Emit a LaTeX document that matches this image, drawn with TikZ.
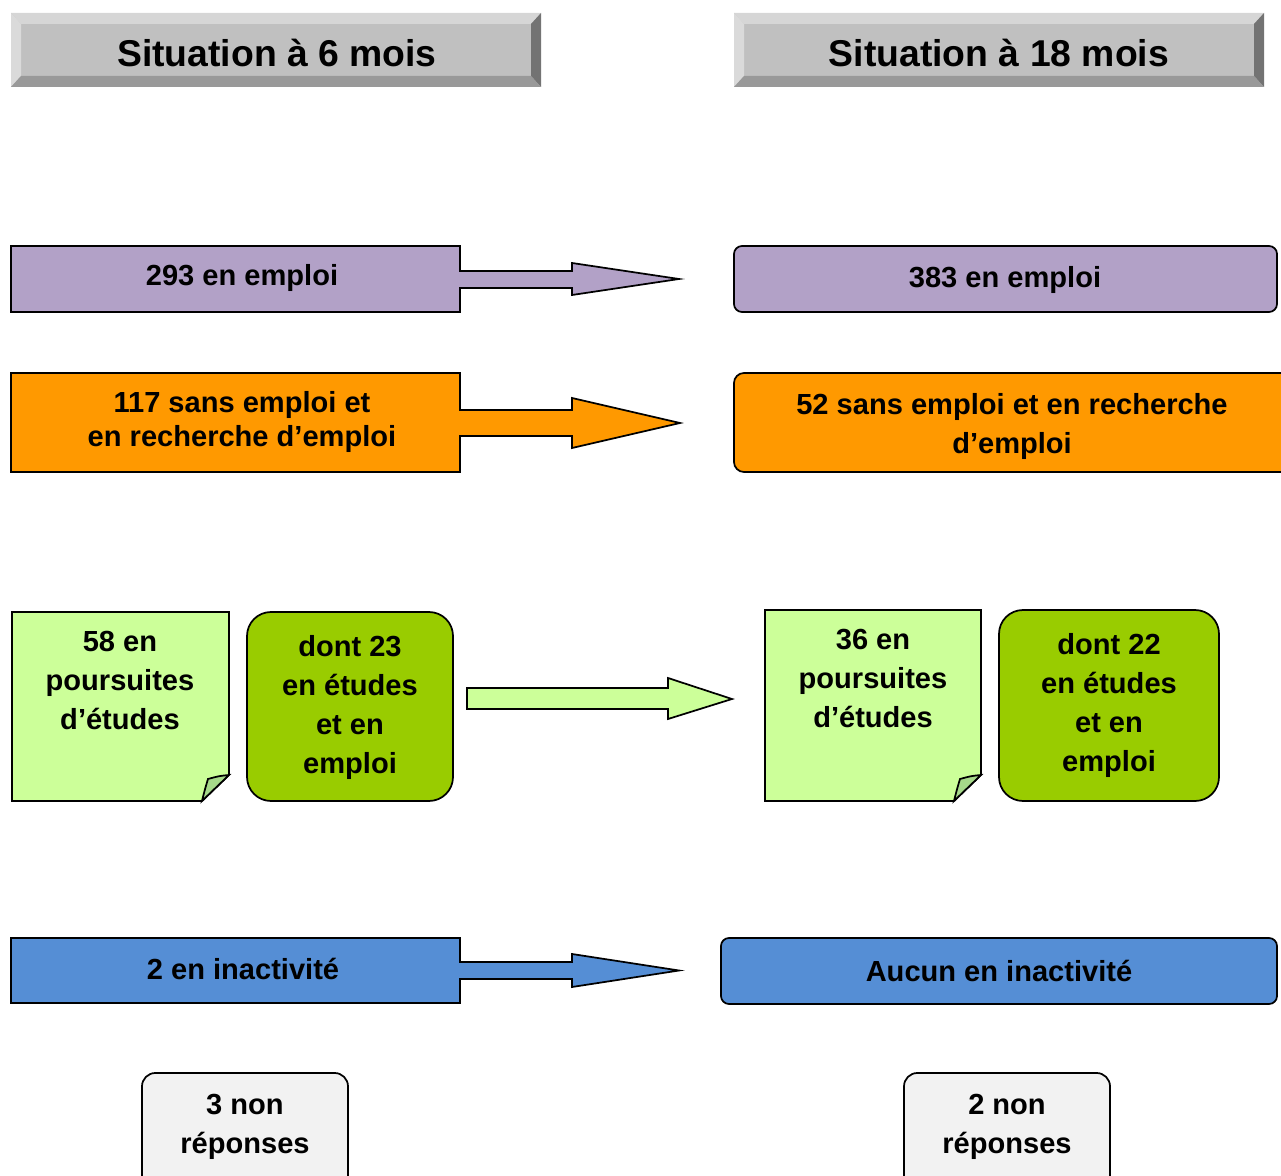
\documentclass[tikz,border=0pt]{standalone}
\usepackage{fontspec}
\setmainfont{Liberation Sans}
\definecolor{cpurple}{HTML}{B2A1C7}
\definecolor{corange}{HTML}{FF9900}
\definecolor{clgreen}{HTML}{CCFF99}
\definecolor{cdgreen}{HTML}{99CC00}
\definecolor{cflap}{HTML}{A6D98A}
\definecolor{cblue}{HTML}{558ED5}
\definecolor{cgray}{HTML}{F2F2F2}
\definecolor{hface}{HTML}{C0C0C0}
\definecolor{htop}{HTML}{D6D6D6}
\definecolor{hleft}{HTML}{DADADA}
\definecolor{hright}{HTML}{737373}
\definecolor{hbottom}{HTML}{999999}
\begin{document}
\begin{tikzpicture}[x=0.75pt,y=-0.75pt,line join=miter,
  lbl/.style={font=\bfseries\fontsize{21.8}{29.25}\selectfont,align=center,inner sep=0pt},
  lbltight/.style={font=\bfseries\fontsize{21.8}{25.5}\selectfont,align=center,inner sep=0pt},
  htxt/.style={font=\bfseries\fontsize{28}{33}\selectfont,inner sep=0pt},
  shp/.style={draw=black,line width=1.3pt},
]
\useasboundingbox (0,0) rectangle (1281,1176);

% ---------- headers ----------
\fill[hface] (11,13) rectangle (541,87);
\fill[htop] (11,13) -- (541,13) -- (531,24) -- (21,24) -- cycle;
\fill[hleft] (11,13) -- (21,24) -- (21,76) -- (11,87) -- cycle;
\fill[hright] (541,13) -- (541,87) -- (531,76) -- (531,24) -- cycle;
\fill[hbottom] (11,87) -- (541,87) -- (531,76) -- (21,76) -- cycle;
\node[htxt] (h6) at (277,53) {Situation à 6 mois};

\fill[hface] (734,13) rectangle (1264,87);
\fill[htop] (734,13) -- (1264,13) -- (1254,24) -- (744,24) -- cycle;
\fill[hleft] (734,13) -- (744,24) -- (744,76) -- (734,87) -- cycle;
\fill[hright] (1264,13) -- (1264,87) -- (1254,76) -- (1254,24) -- cycle;
\fill[hbottom] (734,87) -- (1264,87) -- (1254,76) -- (744,76) -- cycle;
\node[htxt] (h18) at (999,53) {Situation à 18 mois};

% ---------- row 1: emploi ----------
\draw[shp,fill=cpurple] (11,246) -- (460,246) -- (460,271) -- (572,271) -- (572,263)
  -- (679,279) -- (572,295) -- (572,288) -- (460,288) -- (460,312) -- (11,312) -- cycle;
\node[lbl] (e6) at (242,277.5) {293 en emploi};
\draw[shp,fill=cpurple,rounded corners=6pt] (734,246) rectangle (1277,312);
\node[lbl] (e18) at (1005,279.5) {383 en emploi};

% ---------- row 2: recherche ----------
\draw[shp,fill=corange] (11,373) -- (460,373) -- (460,410) -- (572,410) -- (572,398)
  -- (680,423) -- (572,448) -- (572,436) -- (460,436) -- (460,472) -- (11,472) -- cycle;
\node[lbltight] (r6) at (242,421.5) {117 sans emploi et\\en recherche d’emploi};
\draw[shp,fill=corange,rounded corners=7.5pt] (734,373) rectangle (1292,472);
\node[lbl] (r18) at (1012,426.5) {52 sans emploi et en recherche\\d’emploi};

% ---------- row 3: etudes ----------
\draw[shp,fill=clgreen] (12,612) -- (229,612) -- (229,775) -- (202,801) -- (12,801) -- cycle;
\draw[shp,fill=cflap] (229,775) .. controls (219,776) .. (208,779)
  .. controls (205,789) .. (202,801) -- cycle;
\node[lbl] (p6) at (120,680.5) {58 en\\poursuites\\d’études};
\draw[shp,fill=cdgreen,rounded corners=18pt] (247,612) rectangle (453,801);
\node[lbl] (d6) at (350,707.5) {dont 23\\en études\\et en\\emploi};

\draw[shp,fill=clgreen] (467,688) -- (668,688) -- (668,678) -- (732,699)
  -- (668,719) -- (668,709) -- (467,709) -- cycle;

\draw[shp,fill=clgreen] (765,610) -- (981,610) -- (981,775) -- (954,801) -- (765,801) -- cycle;
\draw[shp,fill=cflap] (981,775) .. controls (971,776) .. (960,779)
  .. controls (957,789) .. (954,801) -- cycle;
\node[lbl] (p18) at (873,678.5) {36 en\\poursuites\\d’études};
\draw[shp,fill=cdgreen,rounded corners=18pt] (999,610) rectangle (1219,801);
\node[lbl] (d18) at (1109,705.5) {dont 22\\en études\\et en\\emploi};

% ---------- row 4: inactivite ----------
\draw[shp,fill=cblue] (11,938) -- (460,938) -- (460,962) -- (572,962) -- (572,954)
  -- (679,970.5) -- (572,987) -- (572,979) -- (460,979) -- (460,1003) -- (11,1003) -- cycle;
\node[lbl] (i6) at (243,969) {2 en inactivité};
\draw[shp,fill=cblue,rounded corners=6pt] (721,938) rectangle (1277,1004);
\node[lbl] (i18) at (999,971) {Aucun en inactivité};

% ---------- row 5: non reponses ----------
\draw[shp,fill=cgray,rounded corners=10pt] (142,1073) rectangle (348,1195);
\node[lbl] (n6) at (245,1127) {3 non\\réponses};
\draw[shp,fill=cgray,rounded corners=10pt] (904,1073) rectangle (1110,1195);
\node[lbl] (n18) at (1007,1127) {2 non\\réponses};
\end{tikzpicture}
\end{document}
